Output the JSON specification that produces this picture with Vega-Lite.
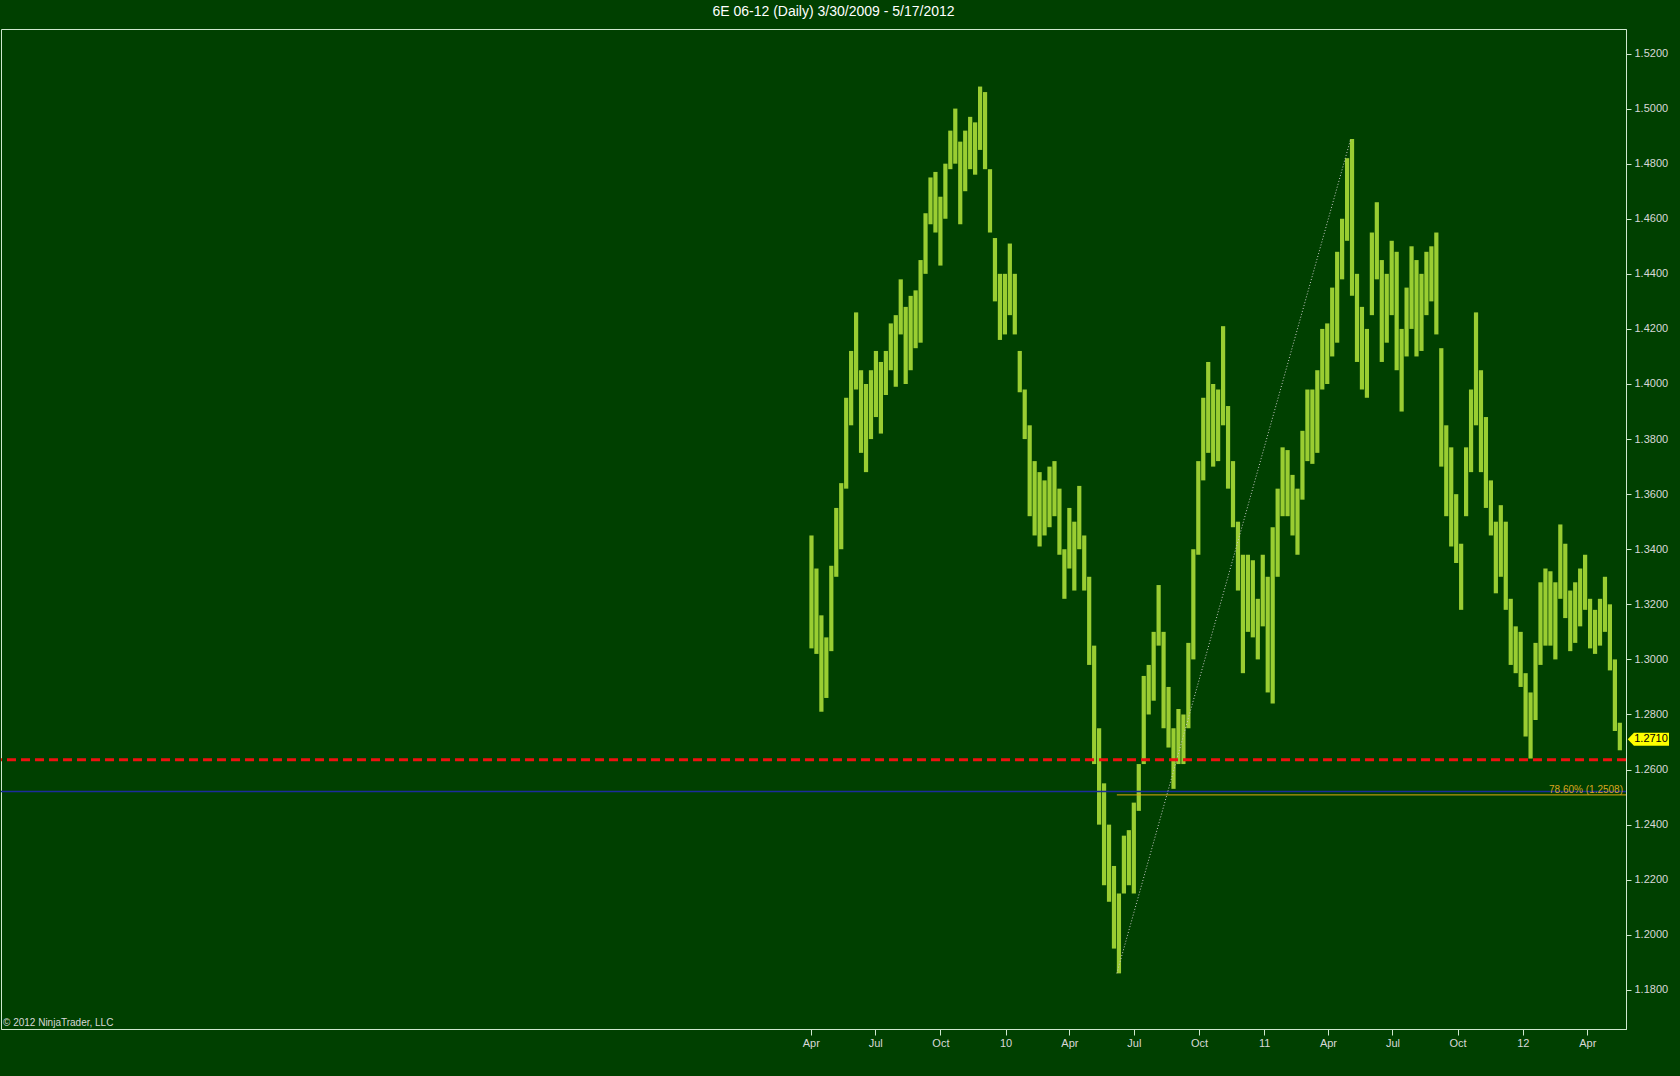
{
  "$schema": "https://vega.github.io/schema/vega-lite/v6.json",
  "width": 1625,
  "height": 1000,
  "autosize": {"type": "none"},
  "padding": {"left": 1, "top": 29, "right": 54, "bottom": 47},
  "background": "#004000",
  "config": {
    "view": {"stroke": "#cfe8cf", "strokeWidth": 1},
    "font": "Liberation Sans"
  },
  "title": {
    "text": "6E 06-12 (Daily)  3/30/2009 - 5/17/2012",
    "color": "#ffffff",
    "font": "Liberation Sans",
    "fontSize": 14,
    "fontWeight": "normal",
    "anchor": "middle",
    "frame": "group",
    "dx": 20,
    "dy": 13,
    "offset": 9,
    "baseline": "bottom"
  },
  "datasets": {
    "bars": [
      {"d": "2009-03-30", "h": 1.345, "l": 1.304},
      {"d": "2009-04-06", "h": 1.333, "l": 1.302},
      {"d": "2009-04-13", "h": 1.316, "l": 1.281},
      {"d": "2009-04-20", "h": 1.308, "l": 1.286},
      {"d": "2009-04-27", "h": 1.334, "l": 1.303},
      {"d": "2009-05-04", "h": 1.355, "l": 1.330},
      {"d": "2009-05-11", "h": 1.364, "l": 1.340},
      {"d": "2009-05-18", "h": 1.395, "l": 1.362},
      {"d": "2009-05-25", "h": 1.412, "l": 1.385},
      {"d": "2009-06-01", "h": 1.426, "l": 1.398},
      {"d": "2009-06-08", "h": 1.405, "l": 1.375},
      {"d": "2009-06-15", "h": 1.400, "l": 1.368},
      {"d": "2009-06-22", "h": 1.405, "l": 1.380},
      {"d": "2009-06-29", "h": 1.412, "l": 1.388},
      {"d": "2009-07-06", "h": 1.408, "l": 1.382},
      {"d": "2009-07-13", "h": 1.412, "l": 1.396},
      {"d": "2009-07-20", "h": 1.422, "l": 1.405},
      {"d": "2009-07-27", "h": 1.425, "l": 1.399},
      {"d": "2009-08-03", "h": 1.438, "l": 1.418},
      {"d": "2009-08-10", "h": 1.428, "l": 1.400},
      {"d": "2009-08-17", "h": 1.432, "l": 1.405},
      {"d": "2009-08-24", "h": 1.434, "l": 1.413},
      {"d": "2009-08-31", "h": 1.445, "l": 1.415},
      {"d": "2009-09-07", "h": 1.462, "l": 1.440},
      {"d": "2009-09-14", "h": 1.475, "l": 1.458},
      {"d": "2009-09-21", "h": 1.477, "l": 1.455},
      {"d": "2009-09-28", "h": 1.468, "l": 1.443},
      {"d": "2009-10-05", "h": 1.480, "l": 1.460},
      {"d": "2009-10-12", "h": 1.492, "l": 1.478},
      {"d": "2009-10-19", "h": 1.500, "l": 1.480},
      {"d": "2009-10-26", "h": 1.488, "l": 1.458},
      {"d": "2009-11-02", "h": 1.492, "l": 1.470},
      {"d": "2009-11-09", "h": 1.497, "l": 1.478},
      {"d": "2009-11-16", "h": 1.495, "l": 1.476},
      {"d": "2009-11-23", "h": 1.508, "l": 1.485},
      {"d": "2009-11-30", "h": 1.506, "l": 1.478},
      {"d": "2009-12-07", "h": 1.478, "l": 1.455},
      {"d": "2009-12-14", "h": 1.453, "l": 1.430},
      {"d": "2009-12-21", "h": 1.440, "l": 1.416},
      {"d": "2009-12-28", "h": 1.440, "l": 1.418},
      {"d": "2010-01-04", "h": 1.451, "l": 1.425},
      {"d": "2010-01-11", "h": 1.440, "l": 1.418},
      {"d": "2010-01-18", "h": 1.412, "l": 1.397},
      {"d": "2010-01-25", "h": 1.398, "l": 1.380},
      {"d": "2010-02-01", "h": 1.385, "l": 1.352},
      {"d": "2010-02-08", "h": 1.372, "l": 1.345},
      {"d": "2010-02-15", "h": 1.368, "l": 1.341},
      {"d": "2010-02-22", "h": 1.365, "l": 1.345},
      {"d": "2010-03-01", "h": 1.370, "l": 1.348},
      {"d": "2010-03-08", "h": 1.372, "l": 1.352},
      {"d": "2010-03-15", "h": 1.362, "l": 1.338},
      {"d": "2010-03-22", "h": 1.340, "l": 1.322},
      {"d": "2010-03-29", "h": 1.355, "l": 1.333},
      {"d": "2010-04-05", "h": 1.350, "l": 1.325},
      {"d": "2010-04-12", "h": 1.363, "l": 1.340},
      {"d": "2010-04-19", "h": 1.345, "l": 1.325},
      {"d": "2010-04-26", "h": 1.330, "l": 1.298},
      {"d": "2010-05-03", "h": 1.305, "l": 1.262},
      {"d": "2010-05-10", "h": 1.275, "l": 1.240},
      {"d": "2010-05-17", "h": 1.255, "l": 1.218},
      {"d": "2010-05-24", "h": 1.240, "l": 1.212},
      {"d": "2010-05-31", "h": 1.225, "l": 1.195},
      {"d": "2010-06-07", "h": 1.215, "l": 1.186},
      {"d": "2010-06-14", "h": 1.236, "l": 1.215},
      {"d": "2010-06-21", "h": 1.238, "l": 1.218},
      {"d": "2010-06-28", "h": 1.248, "l": 1.215},
      {"d": "2010-07-05", "h": 1.262, "l": 1.245},
      {"d": "2010-07-12", "h": 1.294, "l": 1.262},
      {"d": "2010-07-19", "h": 1.298, "l": 1.280},
      {"d": "2010-07-26", "h": 1.310, "l": 1.285},
      {"d": "2010-08-02", "h": 1.327, "l": 1.305},
      {"d": "2010-08-09", "h": 1.310, "l": 1.275},
      {"d": "2010-08-16", "h": 1.290, "l": 1.268},
      {"d": "2010-08-23", "h": 1.275, "l": 1.253},
      {"d": "2010-08-30", "h": 1.282, "l": 1.262},
      {"d": "2010-09-06", "h": 1.280, "l": 1.262},
      {"d": "2010-09-13", "h": 1.306, "l": 1.275},
      {"d": "2010-09-20", "h": 1.340, "l": 1.300},
      {"d": "2010-09-27", "h": 1.372, "l": 1.338},
      {"d": "2010-10-04", "h": 1.395, "l": 1.365},
      {"d": "2010-10-11", "h": 1.408, "l": 1.375},
      {"d": "2010-10-18", "h": 1.400, "l": 1.370},
      {"d": "2010-10-25", "h": 1.398, "l": 1.372},
      {"d": "2010-11-01", "h": 1.421, "l": 1.385},
      {"d": "2010-11-08", "h": 1.392, "l": 1.362},
      {"d": "2010-11-15", "h": 1.372, "l": 1.348},
      {"d": "2010-11-22", "h": 1.350, "l": 1.325},
      {"d": "2010-11-29", "h": 1.338, "l": 1.295},
      {"d": "2010-12-06", "h": 1.338, "l": 1.310},
      {"d": "2010-12-13", "h": 1.336, "l": 1.308},
      {"d": "2010-12-20", "h": 1.322, "l": 1.300},
      {"d": "2010-12-27", "h": 1.338, "l": 1.312},
      {"d": "2011-01-03", "h": 1.330, "l": 1.288},
      {"d": "2011-01-10", "h": 1.348, "l": 1.284},
      {"d": "2011-01-17", "h": 1.362, "l": 1.330},
      {"d": "2011-01-24", "h": 1.377, "l": 1.352},
      {"d": "2011-01-31", "h": 1.376, "l": 1.352},
      {"d": "2011-02-07", "h": 1.367, "l": 1.345},
      {"d": "2011-02-14", "h": 1.362, "l": 1.338},
      {"d": "2011-02-21", "h": 1.383, "l": 1.358},
      {"d": "2011-02-28", "h": 1.398, "l": 1.372},
      {"d": "2011-03-07", "h": 1.398, "l": 1.371},
      {"d": "2011-03-14", "h": 1.405, "l": 1.375},
      {"d": "2011-03-21", "h": 1.420, "l": 1.398},
      {"d": "2011-03-28", "h": 1.422, "l": 1.400},
      {"d": "2011-04-04", "h": 1.435, "l": 1.410},
      {"d": "2011-04-11", "h": 1.448, "l": 1.415},
      {"d": "2011-04-18", "h": 1.460, "l": 1.438},
      {"d": "2011-04-25", "h": 1.482, "l": 1.452},
      {"d": "2011-05-02", "h": 1.489, "l": 1.432},
      {"d": "2011-05-09", "h": 1.440, "l": 1.408},
      {"d": "2011-05-16", "h": 1.428, "l": 1.398},
      {"d": "2011-05-23", "h": 1.420, "l": 1.395},
      {"d": "2011-05-30", "h": 1.455, "l": 1.425},
      {"d": "2011-06-06", "h": 1.466, "l": 1.438},
      {"d": "2011-06-13", "h": 1.445, "l": 1.408},
      {"d": "2011-06-20", "h": 1.440, "l": 1.415},
      {"d": "2011-06-27", "h": 1.452, "l": 1.425},
      {"d": "2011-07-04", "h": 1.448, "l": 1.405},
      {"d": "2011-07-11", "h": 1.420, "l": 1.390},
      {"d": "2011-07-18", "h": 1.435, "l": 1.410},
      {"d": "2011-07-25", "h": 1.450, "l": 1.420},
      {"d": "2011-08-01", "h": 1.445, "l": 1.410},
      {"d": "2011-08-08", "h": 1.440, "l": 1.412},
      {"d": "2011-08-15", "h": 1.448, "l": 1.425},
      {"d": "2011-08-22", "h": 1.450, "l": 1.430},
      {"d": "2011-08-29", "h": 1.455, "l": 1.418},
      {"d": "2011-09-05", "h": 1.413, "l": 1.370},
      {"d": "2011-09-12", "h": 1.385, "l": 1.352},
      {"d": "2011-09-19", "h": 1.377, "l": 1.341},
      {"d": "2011-09-26", "h": 1.360, "l": 1.335},
      {"d": "2011-10-03", "h": 1.342, "l": 1.318},
      {"d": "2011-10-10", "h": 1.377, "l": 1.352},
      {"d": "2011-10-17", "h": 1.398, "l": 1.368},
      {"d": "2011-10-24", "h": 1.426, "l": 1.385},
      {"d": "2011-10-31", "h": 1.405, "l": 1.368},
      {"d": "2011-11-07", "h": 1.388, "l": 1.355},
      {"d": "2011-11-14", "h": 1.365, "l": 1.345},
      {"d": "2011-11-21", "h": 1.350, "l": 1.324},
      {"d": "2011-11-28", "h": 1.356, "l": 1.330},
      {"d": "2011-12-05", "h": 1.350, "l": 1.318},
      {"d": "2011-12-12", "h": 1.322, "l": 1.298},
      {"d": "2011-12-19", "h": 1.312, "l": 1.295},
      {"d": "2011-12-26", "h": 1.310, "l": 1.290},
      {"d": "2012-01-02", "h": 1.295, "l": 1.272},
      {"d": "2012-01-09", "h": 1.288, "l": 1.264},
      {"d": "2012-01-16", "h": 1.306, "l": 1.278},
      {"d": "2012-01-23", "h": 1.328, "l": 1.298},
      {"d": "2012-01-30", "h": 1.333, "l": 1.305},
      {"d": "2012-02-06", "h": 1.332, "l": 1.305},
      {"d": "2012-02-13", "h": 1.328, "l": 1.300},
      {"d": "2012-02-20", "h": 1.349, "l": 1.322},
      {"d": "2012-02-27", "h": 1.342, "l": 1.315},
      {"d": "2012-03-05", "h": 1.325, "l": 1.303},
      {"d": "2012-03-12", "h": 1.328, "l": 1.306},
      {"d": "2012-03-19", "h": 1.333, "l": 1.312},
      {"d": "2012-03-26", "h": 1.338, "l": 1.318},
      {"d": "2012-04-02", "h": 1.322, "l": 1.304},
      {"d": "2012-04-09", "h": 1.318, "l": 1.302},
      {"d": "2012-04-16", "h": 1.322, "l": 1.305},
      {"d": "2012-04-23", "h": 1.330, "l": 1.310},
      {"d": "2012-04-30", "h": 1.320, "l": 1.296},
      {"d": "2012-05-07", "h": 1.300, "l": 1.274},
      {"d": "2012-05-14", "h": 1.277, "l": 1.267}
    ]
  },
  "layer": [
    {
      "data": {"name": "bars"},
      "mark": {"type": "rule", "color": "#9acd32", "strokeWidth": 4.2, "xOffset": 2.1},
      "encoding": {
        "x": {
          "field": "d",
          "type": "temporal",
          "title": null,
          "scale": {
            "domain": [
              {"year": 2006, "month": 2, "date": 13, "utc": true},
              {"year": 2012, "month": 5, "date": 25, "hours": 16, "utc": true}
            ]
          },
          "axis": {
            "orient": "bottom",
            "values": [
              {"year": 2009, "month": 4, "date": 1, "utc": true},
              {"year": 2009, "month": 7, "date": 1, "utc": true},
              {"year": 2009, "month": 10, "date": 1, "utc": true},
              {"year": 2010, "month": 1, "date": 1, "utc": true},
              {"year": 2010, "month": 4, "date": 1, "utc": true},
              {"year": 2010, "month": 7, "date": 1, "utc": true},
              {"year": 2010, "month": 10, "date": 1, "utc": true},
              {"year": 2011, "month": 1, "date": 1, "utc": true},
              {"year": 2011, "month": 4, "date": 1, "utc": true},
              {"year": 2011, "month": 7, "date": 1, "utc": true},
              {"year": 2011, "month": 10, "date": 1, "utc": true},
              {"year": 2012, "month": 1, "date": 1, "utc": true},
              {"year": 2012, "month": 4, "date": 1, "utc": true}
            ],
            "labelExpr": "utcFormat(datum.value, '%m') == '01' ? utcFormat(datum.value, '%y') : utcFormat(datum.value, '%b')",
            "grid": false,
            "domainColor": "#cfe8cf",
            "tickColor": "#cfe8cf",
            "tickSize": 6,
            "labelColor": "#d8d8d8",
            "labelFont": "Liberation Sans",
            "labelFontSize": 11,
            "labelPadding": 2,
            "labelFlush": false,
            "labelOverlap": false
          }
        },
        "y": {
          "field": "l",
          "type": "quantitative",
          "title": null,
          "scale": {"domain": [1.1658, 1.5289], "nice": false, "zero": false},
          "axis": {
            "orient": "right",
            "values": [1.18, 1.2, 1.22, 1.24, 1.26, 1.28, 1.3, 1.32, 1.34, 1.36, 1.38, 1.4, 1.42, 1.44, 1.46, 1.48, 1.5, 1.52],
            "format": ".4f",
            "grid": false,
            "domainColor": "#cfe8cf",
            "tickColor": "#cfe8cf",
            "tickSize": 5,
            "labelPadding": 3,
            "labelColor": "#d8d8d8",
            "labelFont": "Liberation Sans",
            "labelFontSize": 11
          }
        },
        "y2": {"field": "h"}
      }
    },
    {
      "data": {"values": [{"v": 1.252}]},
      "mark": {"type": "rule", "color": "#1c2c9c", "strokeWidth": 1.5},
      "encoding": {"y": {"field": "v", "type": "quantitative"}}
    },
    {
      "data": {"values": [{"start": "2010-06-07", "v": 1.2508, "label": "78.60% (1.2508)"}]},
      "layer": [
        {
          "mark": {"type": "rule", "color": "#e0a810", "strokeWidth": 1},
          "encoding": {
            "x": {"field": "start", "type": "temporal"},
            "x2": {"datum": {"year": 2012, "month": 5, "date": 25, "hours": 16, "utc": true}},
            "y": {"field": "v", "type": "quantitative"}
          }
        },
        {
          "mark": {"type": "text", "align": "right", "baseline": "bottom", "dx": -3, "color": "#d9a520", "fontSize": 10, "font": "Liberation Sans"},
          "encoding": {
            "x": {"datum": {"year": 2012, "month": 5, "date": 25, "hours": 16, "utc": true}, "type": "temporal"},
            "y": {"field": "v", "type": "quantitative"},
            "text": {"field": "label"}
          }
        }
      ]
    },
    {
      "data": {"values": [{"d": "2010-06-07", "v": 1.186}, {"d": "2011-05-03", "v": 1.4889}]},
      "mark": {"type": "line", "color": "#c8c8c8", "strokeWidth": 1, "strokeDash": [1, 2]},
      "encoding": {
        "x": {"field": "d", "type": "temporal"},
        "y": {"field": "v", "type": "quantitative"}
      }
    },
    {
      "data": {"values": [{"v": 1.2636}]},
      "mark": {"type": "rule", "color": "#ee1111", "strokeWidth": 3, "strokeDash": [9, 5]},
      "encoding": {"y": {"field": "v", "type": "quantitative"}}
    },
    {
      "data": {"values": [{"t": "© 2012 NinjaTrader, LLC"}]},
      "mark": {"type": "text", "align": "left", "baseline": "middle", "dx": 2, "color": "#d8d8d8", "fontSize": 10, "font": "Liberation Sans"},
      "encoding": {
        "x": {"datum": {"year": 2006, "month": 2, "date": 13, "utc": true}, "type": "temporal"},
        "y": {"datum": 1.168, "type": "quantitative"},
        "text": {"field": "t"}
      }
    },
    {
      "data": {"values": [{"v": 1.271, "label": "1.2710"}]},
      "layer": [
        {
          "mark": {
            "type": "point",
            "shape": "M-1,0L-0.7,-0.315L1,-0.315L1,0.315L-0.7,0.315Z",
            "size": 1706,
            "filled": true,
            "color": "#ffff00",
            "opacity": 1,
            "strokeWidth": 0
          },
          "encoding": {
            "x": {"datum": {"year": 2012, "month": 6, "date": 26, "hours": 6, "utc": true}, "type": "temporal"},
            "y": {"field": "v", "type": "quantitative"}
          }
        },
        {
          "mark": {"type": "text", "align": "center", "baseline": "middle", "color": "#000000", "fontSize": 11, "font": "Liberation Sans"},
          "encoding": {
            "x": {"datum": {"year": 2012, "month": 6, "date": 30, "utc": true}, "type": "temporal"},
            "y": {"field": "v", "type": "quantitative"},
            "text": {"field": "label"}
          }
        }
      ]
    }
  ]
}
